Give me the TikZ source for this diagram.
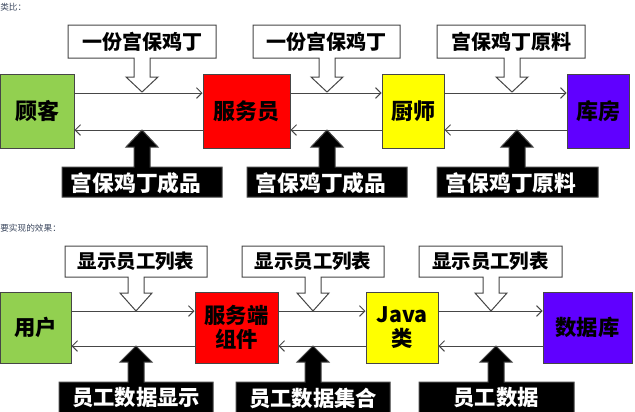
\documentclass[tikz,border=0pt]{standalone}
\usepackage{fontspec}
\setmainfont{Noto Sans CJK SC}
\usetikzlibrary{arrows.meta,calc}
\definecolor{gruen}{RGB}{146,208,80}
\definecolor{rot}{RGB}{255,0,0}
\definecolor{gelb}{RGB}{255,255,0}
\definecolor{lila}{RGB}{96,0,255}
\definecolor{rand}{RGB}{70,70,70}
\definecolor{notiz}{RGB}{60,72,95}

% block arrow: [style] x1, x2, far edge y, near edge y, tip x, head y, tip y
\newcommand{\pfeilbox}[8][]{%
  \draw[#1] (#2,#4) -- (#3,#4) -- (#3,#5) -- (#6+8,#5) -- (#6+8,#7) -- (#6+16,#7)
     -- (#6,#8) -- (#6-16,#7) -- (#6-8,#7) -- (#6-8,#5) -- (#2,#5) -- cycle;}

\tikzset{
  kasten/.style={draw=rand, line width=0.75pt, font=\bfseries\fontsize{16.5}{18}\selectfont,
    align=center, inner sep=0pt},
  klein/.style={font=\bfseries\fontsize{16}{18}\selectfont},
  hell/.style={draw=rand, line width=0.75pt, fill=white},
  dunkel/.style={draw=rand, line width=0.75pt, fill=black},
  hinweis/.style={font=\bfseries\fontsize{15}{16}\selectfont, inner sep=0pt},
  fett/.style={text=white, font=\bfseries\fontsize{16.3}{17}\selectfont},
  fluss/.style={draw=rand, line width=0.7pt, -{Straight Barb[length=4pt,width=8pt]}},
}

\begin{document}
\begin{tikzpicture}[x=0.75pt, y=-0.75pt]
    \useasboundingbox (0,0) rectangle (635,411);

    \node[anchor=west, text=notiz, font=\fontsize{6.5}{7}\selectfont, inner sep=0pt] (t1) at (0,7) {类比：};
    \node[anchor=west, text=notiz, font=\fontsize{6.5}{7}\selectfont, inner sep=0pt] (t2) at (0,228) {要实现的效果：};

    % first row
    \node[kasten, fill=gruen, minimum width=55.5pt, minimum height=55.5pt] (gk) at (37,111) {顾客};
    \node[kasten, fill=rot, minimum width=65.25pt, minimum height=55.5pt] (fwy) at (246.5,111) {服务员};
    \node[kasten, fill=gelb, minimum width=46.5pt, minimum height=55.5pt] (cs) at (413,111) {厨师};
    \node[kasten, fill=lila, minimum width=46.5pt, minimum height=55.5pt] (kf) at (598,111) {库房};

    \draw[fluss] ($(gk.east)+(0,-18)$) -- ($(fwy.west)+(0,-18)$);
    \draw[fluss] ($(fwy.east)+(0,-18)$) -- ($(cs.west)+(0,-18)$);
    \draw[fluss] ($(cs.east)+(0,-18)$) -- ($(kf.west)+(0,-18)$);
    \draw[fluss] ($(fwy.west)+(0,19)$) -- ($(gk.east)+(0,19)$);
    \draw[fluss] ($(cs.west)+(0,19)$) -- ($(fwy.east)+(0,19)$);
    \draw[fluss] ($(kf.west)+(0,19)$) -- ($(cs.east)+(0,19)$);

    \pfeilbox[hell]{68}{216}{25}{58}{142}{77}{92}
    \pfeilbox[hell]{253}{400}{25}{58}{327}{77}{92}
    \pfeilbox[hell]{437}{585}{25}{58}{512}{77}{92}
    \node[hinweis] (a1) at (142,41.5) {一份宫保鸡丁};
    \node[hinweis] (a2) at (326.5,41.5) {一份宫保鸡丁};
    \node[hinweis] (a3) at (511,41.5) {宫保鸡丁原料};

    \pfeilbox[dunkel]{62}{222}{197}{167}{142}{147}{130}
    \pfeilbox[dunkel]{247}{407}{197}{167}{327}{147}{130}
    \pfeilbox[dunkel]{437}{598}{197}{167}{517}{147}{130}
    \node[hinweis, fett] (b1) at (136,183) {宫保鸡丁成品};
    \node[hinweis, fett] (b2) at (321,183) {宫保鸡丁成品};
    \node[hinweis, fett] (b3) at (511,183) {宫保鸡丁原料};

    % second row
    \node[kasten, klein, fill=gruen, minimum width=53.25pt, minimum height=53.25pt] (yh) at (35.5,327.5) {用户};
    \node[kasten, klein, fill=rot, minimum width=62.25pt, minimum height=53.25pt] (fwd) at (236.5,327.5) {服务端\\组件};
    \node[kasten, klein, fill=gelb, minimum width=54pt, minimum height=53.25pt] (jv) at (402,327.5) {Java\\类};
    \node[kasten, klein, fill=lila, minimum width=66.75pt, minimum height=53.25pt] (sjk) at (587.5,327.5) {数据库};

    \draw[fluss] ($(yh.east)+(0,-16.5)$) -- ($(fwd.west)+(0,-16.5)$);
    \draw[fluss] ($(fwd.east)+(0,-16.5)$) -- ($(jv.west)+(0,-16.5)$);
    \draw[fluss] ($(jv.east)+(0,-16.5)$) -- ($(sjk.west)+(0,-16.5)$);
    \draw[fluss] ($(fwd.west)+(0,18.5)$) -- ($(yh.east)+(0,18.5)$);
    \draw[fluss] ($(jv.west)+(0,18.5)$) -- ($(fwd.east)+(0,18.5)$);
    \draw[fluss] ($(sjk.west)+(0,18.5)$) -- ($(jv.east)+(0,18.5)$);

    \pfeilbox[hell]{65}{207}{246}{277}{136}{293}{311}
    \pfeilbox[hell]{242}{384}{246}{277}{313}{293}{311}
    \pfeilbox[hell]{419}{562}{246}{277}{491}{293}{311}
    \node[hinweis, font=\bfseries\fontsize{14.6}{16}\selectfont] (c1) at (136,261.5) {显示员工列表};
    \node[hinweis, font=\bfseries\fontsize{14.6}{16}\selectfont] (c2) at (313,261.5) {显示员工列表};
    \node[hinweis, font=\bfseries\fontsize{14.6}{16}\selectfont] (c3) at (490.5,261.5) {显示员工列表};

    \pfeilbox[dunkel]{59}{213}{418}{382}{136}{362}{346}
    \pfeilbox[dunkel]{236}{390}{418}{382}{313}{362}{346}
    \pfeilbox[dunkel]{419}{574}{418}{382}{496}{362}{346}
    \node[hinweis, fett, font=\bfseries\fontsize{16}{17}\selectfont] (d1) at (136,398) {员工数据显示};
    \node[hinweis, fett, font=\bfseries\fontsize{16}{17}\selectfont] (d2) at (313,398) {员工数据集合};
    \node[hinweis, fett, font=\bfseries\fontsize{16}{17}\selectfont] (d3) at (496,398) {员工数据};

\end{tikzpicture}
\end{document}
